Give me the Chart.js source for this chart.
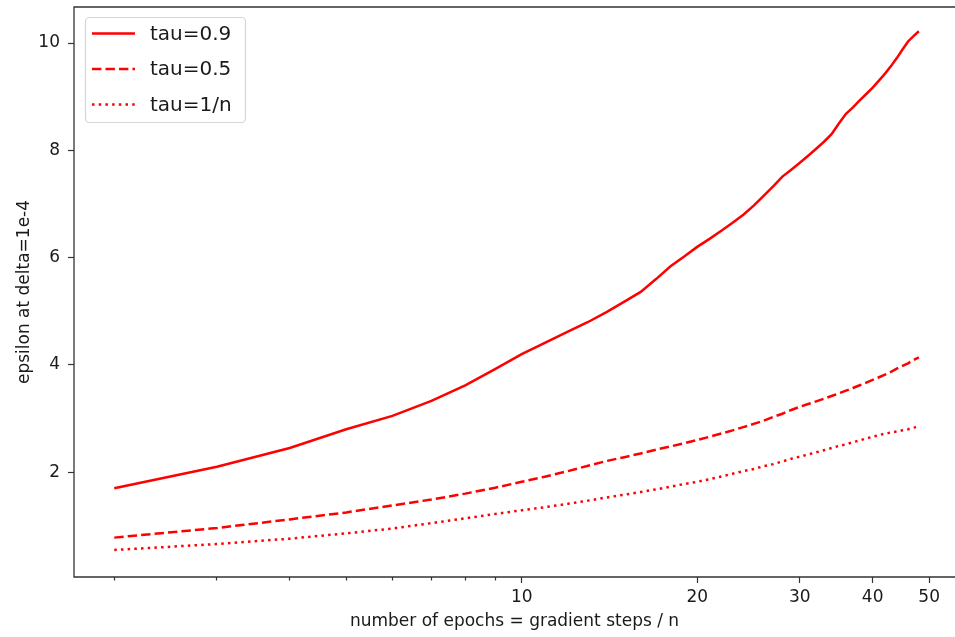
<!DOCTYPE html>
<html>
<head>
<meta charset="utf-8">
<script src="https://cdn.jsdelivr.net/npm/chart.js@4/dist/chart.umd.min.js"></script>
<style>
  html, body { margin: 0; padding: 0; background: #fff; overflow: hidden; }
</style>
</head>
<body>
<canvas id="epsChart" width="955" height="637"></canvas>
<script>
const epochs = [2, 3, 4, 5, 6, 7, 8, 9, 10, 11, 12, 13, 14, 15, 16, 17, 18, 19, 20, 21, 22, 23, 24, 25,
  26, 27, 28, 29, 30, 31, 32, 33, 34, 35, 36, 37, 38, 39, 40, 41, 42, 43, 44, 45, 46, 47, 48];

const tau09 = [1.70, 2.10, 2.45, 2.80, 3.05, 3.33, 3.62, 3.92, 4.20, 4.42, 4.62, 4.80, 4.99, 5.18, 5.36, 5.60,
  5.84, 6.02, 6.20, 6.35, 6.50, 6.65, 6.80, 6.97, 7.15, 7.33, 7.51, 7.64, 7.77, 7.90, 8.03, 8.16, 8.30, 8.50,
  8.68, 8.80, 8.93, 9.05, 9.17, 9.30, 9.43, 9.57, 9.72, 9.88, 10.03, 10.13, 10.22];

const tau05 = [0.78, 0.96, 1.12, 1.25, 1.38, 1.49, 1.60, 1.71, 1.82, 1.92, 2.02, 2.12, 2.21, 2.28, 2.35, 2.42,
  2.48, 2.54, 2.60, 2.66, 2.72, 2.78, 2.84, 2.90, 2.96, 3.03, 3.09, 3.16, 3.22, 3.27, 3.32, 3.37, 3.42, 3.47,
  3.52, 3.57, 3.62, 3.67, 3.72, 3.77, 3.82, 3.87, 3.93, 3.98, 4.03, 4.09, 4.14];

const tau1n = [0.55, 0.66, 0.76, 0.86, 0.95, 1.05, 1.14, 1.22, 1.29, 1.35, 1.41, 1.47, 1.53, 1.58, 1.63, 1.68,
  1.73, 1.78, 1.82, 1.87, 1.92, 1.97, 2.02, 2.06, 2.11, 2.15, 2.20, 2.25, 2.29, 2.33, 2.37, 2.41, 2.45, 2.49,
  2.52, 2.56, 2.59, 2.63, 2.66, 2.69, 2.72, 2.74, 2.76, 2.78, 2.80, 2.83, 2.85];

const xTicks = [2, 3, 4, 5, 6, 7, 8, 9, 10, 20, 30, 40, 50];
const xLabeled = [10, 20, 30, 40, 50];
const yTicks = [2, 4, 6, 8, 10];

const FONT = 'DejaVu Sans';
const RED = '#ff0000';

const toPoints = (ys) => epochs.map((x, i) => ({ x, y: ys[i] }));

// legend in the upper left corner, matplotlib style
const boxLegend = {
  id: 'boxLegend',
  afterDraw(chart) {
    const ctx = chart.ctx;
    const x = 85.5, y = 17.5, w = 160, h = 105, r = 4;
    ctx.save();
    ctx.fillStyle = 'rgba(255,255,255,0.8)';
    ctx.strokeStyle = 'rgba(204,204,204,0.8)';
    ctx.lineWidth = 1.2;
    ctx.beginPath();
    ctx.roundRect(x, y, w, h, r);
    ctx.fill();
    ctx.stroke();
    chart.data.datasets.forEach((ds, i) => {
      const cy = 33.5 + i * 35.5;
      ctx.strokeStyle = ds.borderColor;
      ctx.lineWidth = ds.borderWidth;
      ctx.setLineDash(ds.borderDash || []);
      ctx.beginPath();
      ctx.moveTo(92, cy);
      ctx.lineTo(135, cy);
      ctx.stroke();
      ctx.setLineDash([]);
      ctx.fillStyle = '#1a1a1a';
      ctx.font = '20px "' + FONT + '"';
      ctx.textBaseline = 'middle';
      ctx.fillText(ds.label, 150, cy + 1);
    });
    ctx.restore();
  }
};

// axes frame: left, top and bottom (the right edge falls outside the figure)
const frame = {
  id: 'frame',
  afterDatasetsDraw(chart) {
    const { left, right, top, bottom } = chart.chartArea;
    const ctx = chart.ctx;
    ctx.save();
    ctx.strokeStyle = '#333';
    ctx.lineWidth = 1.3;
    ctx.beginPath();
    ctx.moveTo(right + 2, top);
    ctx.lineTo(left, top);
    ctx.lineTo(left, bottom);
    ctx.lineTo(right + 2, bottom);
    ctx.stroke();
    ctx.restore();
  }
};

Chart.defaults.font.family = FONT;
Chart.defaults.font.size = 17;
Chart.defaults.color = '#1a1a1a';

new Chart(document.getElementById('epsChart'), {
  type: 'line',
  data: {
    datasets: [
      { label: 'tau=0.9', data: toPoints(tau09), borderColor: RED, borderWidth: 2.5, pointRadius: 0 },
      { label: 'tau=0.5', data: toPoints(tau05), borderColor: RED, borderWidth: 2.5, pointRadius: 0, borderDash: [9.4, 4.1] },
      { label: 'tau=1/n', data: toPoints(tau1n), borderColor: RED, borderWidth: 2.5, pointRadius: 0, borderDash: [2.5, 4.2] },
    ],
  },
  options: {
    responsive: false,
    animation: false,
    devicePixelRatio: 1,
    layout: { padding: { top: 7, right: 0, left: 0, bottom: 0 } },
    plugins: { legend: { display: false }, tooltip: { enabled: false } },
    scales: {
      x: {
        type: 'logarithmic',
        min: 1.706,
        max: 55.37,
        afterFit: (s) => { s.height = 60; s.paddingLeft = 0; s.paddingRight = 0; },
        afterBuildTicks: (s) => { s.ticks = xTicks.map((v) => ({ value: v })); },
        border: { display: false },
        grid: {
          drawOnChartArea: false,
          drawTicks: true,
          tickLength: 6,
          tickColor: '#333',
          tickWidth: 1.2,
          tickBorderDash: (c) => (xLabeled.includes(c.tick && c.tick.value) ? [] : [3.5, 20]),
        },
        ticks: {
          autoSkip: false,
          maxRotation: 0,
          padding: 4,
          callback: (v) => (xLabeled.includes(v) ? String(v) : ''),
        },
        title: {
          display: true,
          text: 'number of epochs = gradient steps / n',
          padding: { top: 0, bottom: 5 },
        },
      },
      y: {
        min: 0.046,
        max: 10.672,
        afterFit: (s) => { s.width = 74; s.paddingTop = 0; s.paddingBottom = 0; },
        afterBuildTicks: (s) => { s.ticks = yTicks.map((v) => ({ value: v })); },
        border: { display: false },
        grid: { drawOnChartArea: false, drawTicks: true, tickLength: 6, tickColor: '#333', tickWidth: 1.2 },
        ticks: { padding: 8, callback: (v) => String(v) },
        title: {
          display: true,
          text: 'epsilon at delta=1e-4',
          padding: { top: 14, bottom: 0 },
        },
      },
    },
  },
  plugins: [frame, boxLegend],
});
</script>
</body>
</html>
